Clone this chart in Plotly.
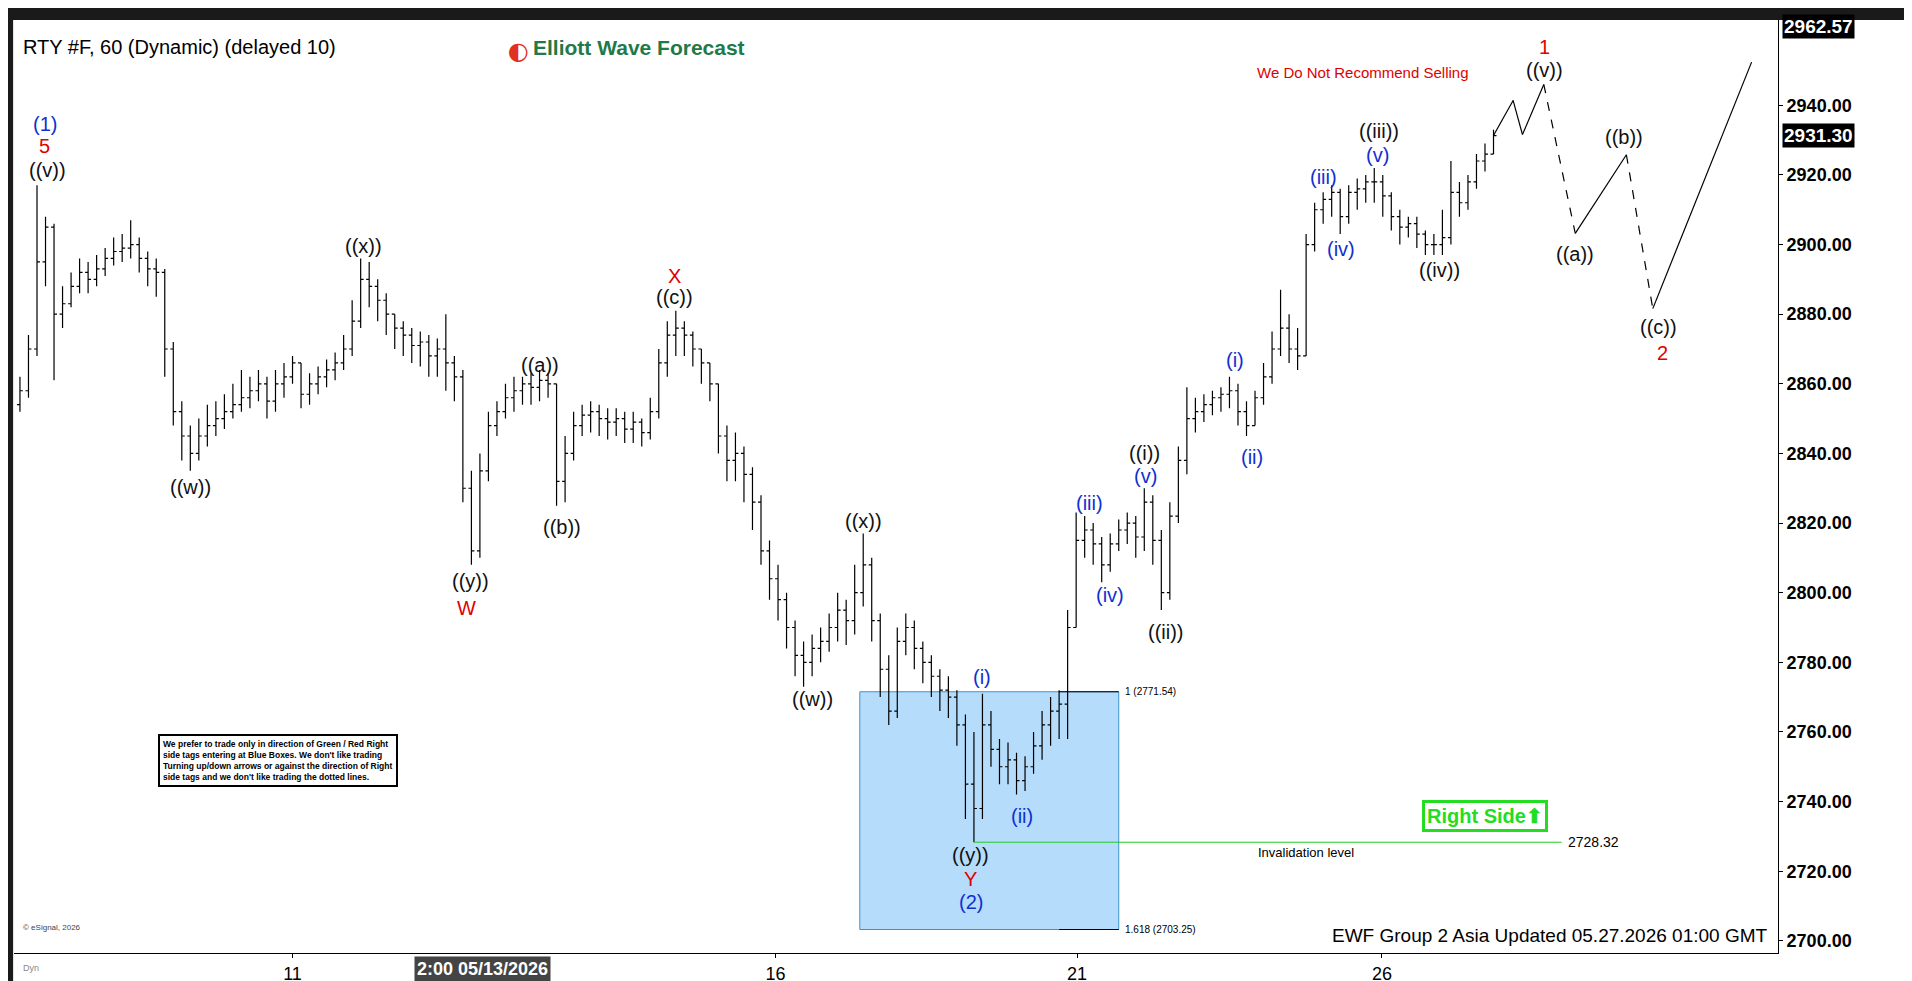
import plotly.graph_objects as go

# 2-hour bars, index 0..173 (dates only used for tick labels)
closes = [2858, 2870, 2895, 2905, 2880, 2883, 2888, 2892, 2890, 2893,
          2896, 2898, 2899, 2900, 2896, 2893, 2892, 2870, 2852, 2845,
          2840, 2845, 2848, 2850, 2852, 2854, 2856, 2858, 2860, 2855,
          2860, 2862, 2866, 2857, 2860, 2862, 2864, 2866, 2870, 2878,
          2890, 2888, 2884, 2880, 2876, 2874, 2871, 2872, 2868, 2870,
          2866, 2862, 2830, 2812, 2835, 2848, 2852, 2856, 2858, 2860,
          2859, 2861, 2860, 2832, 2840, 2848, 2851, 2852, 2850, 2849,
          2850, 2847, 2849, 2846, 2852, 2866, 2874, 2876, 2874, 2870,
          2866, 2860, 2845, 2838, 2840, 2834, 2826, 2812, 2804, 2798,
          2790, 2782, 2780, 2784, 2786, 2790, 2795, 2792, 2800, 2808,
          2792, 2778, 2766, 2786, 2790, 2784, 2780, 2776, 2772, 2770,
          2762, 2745, 2738, 2762, 2755, 2750, 2752, 2746, 2750, 2756,
          2762, 2766, 2768, 2790, 2815, 2818, 2814, 2808, 2814, 2818,
          2820, 2816, 2826, 2815, 2800, 2822, 2838, 2850, 2852, 2854,
          2856, 2857, 2858, 2852, 2848, 2856, 2862, 2870, 2876, 2870,
          2868, 2900, 2910, 2913, 2915, 2908, 2915, 2916, 2918, 2918,
          2914, 2908, 2905, 2906, 2903, 2900, 2900, 2902, 2915, 2912,
          2918, 2924, 2926, 2931.3]
highs = [2862, 2874, 2917, 2908, 2906, 2888, 2892, 2896, 2895, 2897,
         2899, 2902, 2903, 2907, 2902, 2898, 2896, 2893, 2872, 2855,
         2848, 2850, 2854, 2855, 2857, 2860, 2864, 2862, 2864, 2862,
         2864, 2866, 2868, 2866, 2863, 2865, 2867, 2869, 2874, 2884,
         2896, 2895, 2890, 2886, 2880, 2878, 2876, 2875, 2874, 2873,
         2880, 2868, 2864, 2835, 2840, 2852, 2855, 2860, 2862, 2862,
         2863, 2864, 2863, 2860, 2845, 2852, 2854, 2855, 2854, 2853,
         2853, 2852, 2852, 2850, 2856, 2870, 2878, 2881, 2878, 2875,
         2870, 2866, 2860, 2848, 2846, 2842, 2836, 2828, 2815, 2808,
         2800, 2792, 2786, 2788, 2790, 2794, 2800, 2798, 2808, 2817,
         2810, 2794, 2782, 2790, 2794, 2792, 2786, 2782, 2778, 2776,
         2772, 2765, 2760, 2771, 2766, 2758, 2757, 2754, 2753, 2760,
         2766, 2770, 2772, 2795, 2823, 2822, 2820, 2816, 2817, 2821,
         2823, 2822, 2830, 2828, 2818, 2826, 2842, 2859, 2856, 2857,
         2858, 2859, 2862, 2860, 2855, 2858, 2866, 2875, 2887, 2880,
         2876, 2903, 2912, 2915, 2917, 2916, 2917, 2919, 2920, 2922,
         2920, 2915, 2910, 2908, 2908, 2904, 2903, 2910, 2924, 2918,
         2920, 2926, 2929, 2933]
lows = [2852, 2856, 2868, 2888, 2861, 2876, 2882, 2886, 2886, 2888,
        2891, 2894, 2895, 2896, 2892, 2888, 2885, 2862, 2848, 2838,
        2835, 2838, 2842, 2845, 2847, 2850, 2852, 2853, 2855, 2850,
        2852, 2856, 2860, 2853, 2854, 2857, 2859, 2861, 2864, 2868,
        2876, 2882, 2878, 2874, 2870, 2868, 2866, 2865, 2862, 2862,
        2858, 2855, 2826, 2808, 2810, 2832, 2845, 2850, 2852, 2854,
        2854, 2855, 2856, 2825, 2826, 2838, 2845, 2846, 2845, 2844,
        2845, 2843, 2843, 2842, 2844, 2850, 2862, 2868, 2868, 2865,
        2860, 2855, 2840, 2832, 2832, 2826, 2818, 2808, 2798, 2792,
        2784, 2776, 2773, 2776, 2780, 2783, 2786, 2785, 2788, 2796,
        2786, 2770, 2762, 2764, 2782, 2778, 2774, 2770, 2766, 2764,
        2756, 2735, 2728.32, 2735, 2750, 2745, 2745, 2742, 2743, 2748,
        2752, 2756, 2758, 2758, 2790, 2810, 2808, 2803, 2806, 2812,
        2814, 2810, 2812, 2808, 2795, 2798, 2820, 2834, 2846, 2849,
        2851, 2852, 2853, 2848, 2845, 2848, 2854, 2860, 2868, 2866,
        2864, 2868, 2898, 2906, 2908, 2903, 2906, 2910, 2912, 2912,
        2908, 2904, 2900, 2902, 2899, 2897, 2897, 2897, 2900, 2908,
        2910, 2916, 2921, 2926]
opens = [closes[0] - 4] + closes[:-1]
bar_x = list(range(len(closes)))

# x tick labels (day of month) at bar positions
tick_pos = [32, 88.7, 124.1, 159.9]
tick_text = ['11', '16', '21', '26']
price_ticks = [2700, 2720, 2740, 2760, 2780, 2800, 2820, 2840, 2860, 2880, 2900, 2920, 2940]

# projected path after last bar
proj_x = [173, 175.3, 176.4, 178.9, 182.6, 188.6, 191.7, 203.3]
proj_y = [2931.3, 2941.4, 2931.6, 2946, 2903.2, 2925.8, 2881.6, 2952.4]
proj_dash = ['solid', 'solid', 'solid', 'dash', 'solid', 'dash', 'solid']

# blue box / levels
box_x = [98.6, 129]
box_fib = [2703.25, 2771.54]
invalidation = 2728.32
last_price = 2931.30
top_price = 2962.57

# wave labels: text, bar pos, price, colour
BLK, BLU, RED = '#111111', '#1030d0', '#e00000'
labels = [
    ('(1)', 2.9, 2934.5, BLU), ('5', 2.9, 2928.2, RED), ('((v))', 3.2, 2921.3, BLK),
    ('((w))', 20, 2830.3, BLK), ('((x))', 40.3, 2899.7, BLK),
    ('((y))', 52.9, 2803.5, BLK), ('W', 52.4, 2795.5, RED),
    ('((a))', 61, 2865.3, BLK), ('((b))', 63.6, 2818.8, BLK),
    ('X', 76.9, 2891, RED), ('((c))', 76.9, 2884.8, BLK),
    ('((x))', 99, 2820.5, BLK), ('((w))', 93.1, 2769.5, BLK),
    ('(i)', 113, 2775.7, BLU), ('(ii)', 117.7, 2735.8, BLU),
    ('((y))', 111.6, 2724.7, BLK), ('Y', 111.6, 2717.7, RED), ('(2)', 111.6, 2711.1, BLU),
    ('(iii)', 125.6, 2825.7, BLU), ('(iv)', 128, 2799.3, BLU),
    ('(v)', 132.1, 2833.4, BLU), ('((i))', 132, 2840, BLK),
    ('((ii))', 134.6, 2788.6, BLK), ('(i)', 142.6, 2866.7, BLU),
    ('(ii)', 144.6, 2839, BLU), ('(iii)', 153, 2919.5, BLU),
    ('(iv)', 155.1, 2898.7, BLU), ('(v)', 159.4, 2925.8, BLU),
    ('((iii))', 159.6, 2932.7, BLK), ('((iv))', 166.6, 2892.8, BLK),
    ('((v))', 179, 2950.1, BLK), ('1', 179, 2956.7, RED),
    ('((a))', 182.6, 2897.3, BLK), ('((b))', 188.3, 2931, BLK),
    ('((c))', 192.4, 2876.4, BLK), ('2', 192.8, 2868.8, RED),
]

FONT = 'Liberation Sans'
fig = go.Figure()

fig.add_trace(go.Ohlc(x=bar_x, open=opens, high=highs, low=lows, close=closes,
                      increasing_line_color='black', decreasing_line_color='black',
                      line_width=1.2, tickwidth=0.35, showlegend=False, hoverinfo='skip'))

for i in range(len(proj_x) - 1):
    fig.add_trace(go.Scatter(x=proj_x[i:i + 2], y=proj_y[i:i + 2], mode='lines',
                             line=dict(color='black', width=1.2, dash=proj_dash[i]),
                             showlegend=False, hoverinfo='skip'))

# blue box
fig.add_shape(type='rect', x0=box_x[0], x1=box_x[1], y0=box_fib[0], y1=box_fib[1],
              fillcolor='#b5dcfa', line=dict(color='#3b93d3', width=1), layer='below')
fig.add_shape(type='line', x0=122, x1=box_x[1], y0=box_fib[1], y1=box_fib[1], line=dict(color='black', width=1))
fig.add_shape(type='line', x0=122, x1=box_x[1], y0=box_fib[0], y1=box_fib[0], line=dict(color='black', width=1))
fig.add_annotation(x=box_x[1] + 0.5, y=box_fib[1], text='1 (%.2f)' % box_fib[1], showarrow=False,
                   xanchor='left', font=dict(size=10, color='black', family=FONT))
fig.add_annotation(x=box_x[1] + 0.5, y=box_fib[0], text='1.618 (%.2f)' % box_fib[0], showarrow=False,
                   xanchor='left', font=dict(size=10, color='black', family=FONT))

# invalidation line
fig.add_shape(type='line', x0=112, x1=181, y0=invalidation, y1=invalidation, line=dict(color='#22cc22', width=1))
fig.add_annotation(x=181.5, y=invalidation, text='%.2f' % invalidation, showarrow=False, xanchor='left',
                   font=dict(size=14, color='black', family=FONT))
fig.add_annotation(x=151, y=invalidation, text='Invalidation level', showarrow=False, yanchor='top', yshift=-1,
                   font=dict(size=13, color='black', family=FONT))
fig.add_annotation(x=172, y=2735.8, text='<b>Right Side⬆</b>', showarrow=False,
                   font=dict(size=20, color='#22dd22', family=FONT), bordercolor='#22dd22', borderwidth=3,
                   bgcolor='white', borderpad=2)

for t, x, y, c in labels:
    fig.add_annotation(x=x, y=y, text=t, showarrow=False, font=dict(size=20, color=c, family=FONT))

fig.add_annotation(x=157.6, y=2949.4, text='We Do Not Recommend Selling', showarrow=False,
                   font=dict(size=15, color='#e00000', family='Liberation Sans Narrow, ' + FONT))
fig.add_annotation(x=30.3, y=2751.8, showarrow=False, align='left',
                   text='<b>We prefer to trade only in direction of Green / Red Right<br>'
                        'side tags entering at Blue Boxes. We don\'t like trading<br>'
                        'Turning up/down arrows or against the direction of Right<br>'
                        'side tags and we don\'t like trading the dotted lines.</b>',
                   font=dict(size=8.5, color='black', family=FONT), bordercolor='black', borderwidth=2,
                   bgcolor='white', borderpad=3)
fig.add_annotation(x=1, xref='paper', y=0.005, yref='paper', xanchor='right', yanchor='bottom', xshift=-8,
                   text='EWF Group 2 Asia Updated 05.27.2026 01:00 GMT', showarrow=False,
                   font=dict(size=19, color='black', family=FONT))

# header texts
fig.add_annotation(x=0.004, xref='paper', y=0.985, yref='paper', xanchor='left', yanchor='top',
                   text='RTY #F, 60 (Dynamic) (delayed 10)', showarrow=False,
                   font=dict(size=20, color='black', family=FONT))
fig.add_annotation(x=0.293, xref='paper', y=0.985, yref='paper', xanchor='left', yanchor='top',
                   text='<b>Elliott Wave Forecast</b>', showarrow=False,
                   font=dict(size=21, color='#1f7a4a', family=FONT))
fig.add_annotation(x=0.279, xref='paper', y=0.984, yref='paper', xanchor='left', yanchor='top',
                   text='<span style="color:#e03020">◐</span>', showarrow=False,
                   font=dict(size=24, color='#2a8fd0', family='DejaVu Sans'))
fig.add_annotation(x=0.004, xref='paper', y=0.02, yref='paper', xanchor='left', yanchor='bottom',
                   text='© eSignal, 2026', showarrow=False, font=dict(size=8, color='#444', family=FONT))

# right axis value boxes
for p in [top_price, last_price]:
    fig.add_annotation(x=1, xref='paper', y=p, xanchor='left', text='<b>%.2f</b>' % p, showarrow=False,
                       xshift=4, bgcolor='black', font=dict(size=19, color='white', family=FONT), borderpad=1)

# highlighted date on x axis
fig.add_annotation(x=54.3, y=0, yref='paper', yanchor='top', yshift=-3, text='<b>2:00 05/13/2026</b>',
                   showarrow=False, bgcolor='#444444', font=dict(size=18, color='white', family=FONT), borderpad=2)
fig.add_annotation(x=0.004, xref='paper', y=0, yref='paper', yanchor='top', xanchor='left', yshift=-8,
                   text='Dyn', showarrow=False, font=dict(size=9, color='#888', family=FONT))

# frame: dark top bar and left bar
fig.add_shape(type='rect', xref='paper', yref='paper', x0=-0.01, x1=1.09, y0=1.0, y1=1.02,
              fillcolor='#1a1a1a', line_width=0)
fig.add_shape(type='rect', xref='paper', yref='paper', x0=-0.01, x1=-0.0005, y0=-0.05, y1=1.02,
              fillcolor='#1a1a1a', line_width=0)

fig.update_layout(
    width=1912, height=981,
    margin=dict(l=6, r=142, t=12, b=36),
    paper_bgcolor='white', plot_bgcolor='white',
    font=dict(family=FONT, color='black'),
    xaxis=dict(range=[-0.7, 206.4], tickvals=tick_pos, ticktext=tick_text, showgrid=False, zeroline=False,
               rangeslider=dict(visible=False), ticks='outside', ticklen=4, tickcolor='black',
               tickfont=dict(size=18, family=FONT, color='black'), showline=True, linecolor='black'),
    yaxis=dict(range=[2696.5, 2964.5], side='right', tickvals=price_ticks,
               ticktext=['<b>%.2f</b>' % v for v in price_ticks],
               showgrid=False, zeroline=False, ticks='outside', ticklen=4, tickcolor='black',
               tickfont=dict(size=18, family=FONT, color='black'), showline=True, linecolor='black'),
)

fig.write_html('out.html')
